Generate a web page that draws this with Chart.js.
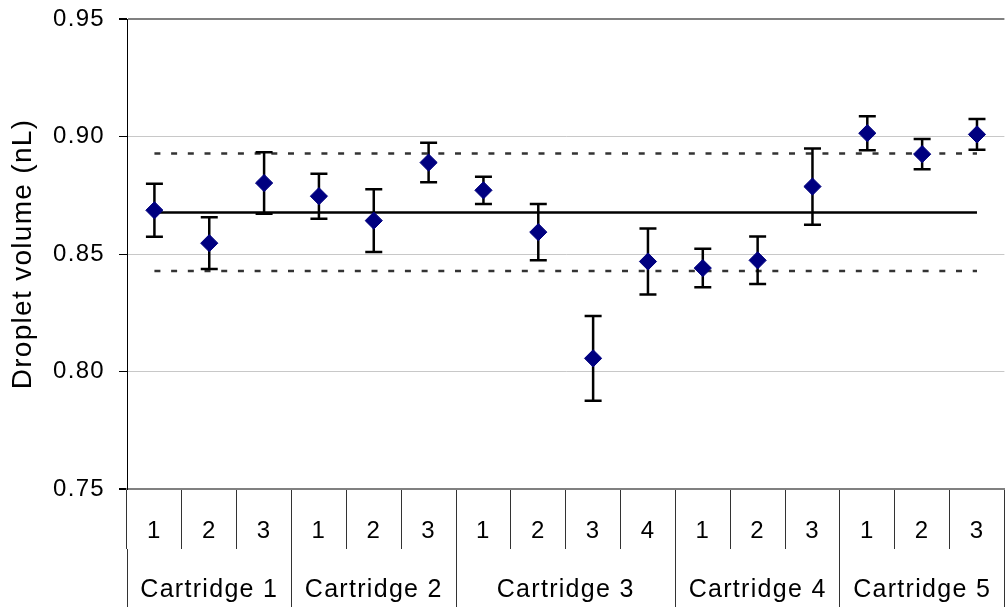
<!DOCTYPE html>
<html>
<head>
<meta charset="utf-8">
<script src="https://cdn.jsdelivr.net/npm/chart.js@4"></script>
<style>
  html, body { margin: 0; padding: 0; background: #fff; overflow: hidden; }
</style>
</head>
<body>
<canvas id="dropletChart" width="1014" height="607"></canvas>
<script>
// categories
const runLabels = ['1', '2', '3', '1', '2', '3', '1', '2', '3', '4', '1', '2', '3', '1', '2', '3'];
const cartridges = ['Cartridge 1', 'Cartridge 2', 'Cartridge 3', 'Cartridge 4', 'Cartridge 5'];
const runsPerCartridge = [3, 3, 4, 3, 3];

// measured droplet volume (nL) and its error (+/-)
const volumes = [0.8686, 0.8546, 0.8802, 0.8746, 0.8642, 0.8889, 0.8771, 0.8593,
                 0.8056, 0.8468, 0.8440, 0.8473, 0.8787, 0.9014, 0.8925, 0.9009];
const errors = [0.0113, 0.0110, 0.0131, 0.0096, 0.0134, 0.0084, 0.0058, 0.0120,
                0.0180, 0.0140, 0.0082, 0.0101, 0.0162, 0.0072, 0.0064, 0.0065];

// reference lines: lower limit, mean, upper limit
const meanVolume = 0.8677;
const lowerLimit = 0.8428;
const upperLimit = 0.8928;

// y axis
const yMin = 0.75;
const yMax = 0.95;
const yStep = 0.05;

// group boundaries / centres on the index scale
const groupEdges = [-0.5];
const groupCentres = [];
runsPerCartridge.forEach(n => {
  const start = groupEdges[groupEdges.length - 1];
  groupCentres.push(start + n / 2);
  groupEdges.push(start + n);
});
const firstIdx = 0;
const lastIdx = runLabels.length - 1;

Chart.defaults.font.family = "'Liberation Sans', Arial, sans-serif";
Chart.defaults.color = '#000';

const textSpacing = {
  id: 'textSpacing',
  beforeLayout(chart) { chart.ctx.letterSpacing = '1.3px'; },
  beforeDraw(chart) { chart.ctx.letterSpacing = '1.3px'; }
};

// error bars drawn just before the diamond markers
const errorBars = {
  id: 'errorBars',
  beforeDatasetDraw(chart, args) {
    if (args.index !== 0) return;
    const { ctx, scales: { x, y } } = chart;
    const cap = 8.5;
    ctx.save();
    ctx.strokeStyle = '#000';
    ctx.lineWidth = 2.5;
    volumes.forEach((v, i) => {
      const px = x.getPixelForValue(i);
      const top = y.getPixelForValue(v + errors[i]);
      const bottom = y.getPixelForValue(v - errors[i]);
      ctx.beginPath();
      ctx.moveTo(px, top);
      ctx.lineTo(px, bottom);
      ctx.moveTo(px - cap, top);
      ctx.lineTo(px + cap, top);
      ctx.moveTo(px - cap, bottom);
      ctx.lineTo(px + cap, bottom);
      ctx.stroke();
    });
    ctx.restore();
  }
};

const ctx = document.getElementById('dropletChart').getContext('2d');
new Chart(ctx, {
  type: 'line',
  data: {
    labels: runLabels,
    datasets: [
      {
        label: 'Droplet volume',
        data: volumes,
        showLine: false,
        pointStyle: 'rectRot',
        pointRadius: 8.6,
        pointBackgroundColor: '#000080',
        pointBorderColor: '#000080',
        pointBorderWidth: 1,
        order: 0
      },
      {
        label: 'Mean',
        xAxisID: 'x2',
        data: [{ x: firstIdx, y: meanVolume }, { x: lastIdx, y: meanVolume }],
        borderColor: '#000',
        borderWidth: 2.5,
        pointRadius: 0,
        order: 1
      },
      {
        label: 'Upper',
        xAxisID: 'x2',
        data: [{ x: firstIdx, y: upperLimit }, { x: lastIdx, y: upperLimit }],
        borderColor: '#333',
        borderWidth: 2.5,
        borderDash: [6, 10.7],
        pointRadius: 0,
        order: 2
      },
      {
        label: 'Lower',
        xAxisID: 'x2',
        data: [{ x: firstIdx, y: lowerLimit }, { x: lastIdx, y: lowerLimit }],
        borderColor: '#333',
        borderWidth: 2.5,
        borderDash: [6, 10.7],
        pointRadius: 0,
        order: 3
      }
    ]
  },
  options: {
    responsive: false,
    animation: false,
    events: [],
    layout: { padding: 0 },
    scales: {
      x: {
        type: 'category',
        position: 'bottom',
        offset: true,
        weight: 0,
        afterFit: (axis) => { axis.height = 60; },
        grid: {
          offset: true,
          drawOnChartArea: false,
          drawTicks: true,
          tickLength: 60,
          color: '#333',
          lineWidth: 1
        },
        border: { color: '#808080', width: 2 },
        ticks: {
          autoSkip: false,
          maxRotation: 0,
          minRotation: 0,
          padding: -32,
          font: { size: 24 },
          color: '#000'
        }
      },
      x2: {
        type: 'linear',
        position: 'bottom',
        weight: 1,
        min: -0.5,
        max: runLabels.length - 0.5,
        afterFit: (axis) => { axis.height = 58; },
        afterBuildTicks: (axis) => {
          axis.ticks = groupEdges.concat(groupCentres)
            .sort((a, b) => a - b)
            .map(v => ({ value: v }));
        },
        grid: {
          drawOnChartArea: false,
          drawTicks: true,
          tickLength: 58,
          color: (c) => (c.tick && groupEdges.includes(c.tick.value)) ? '#333' : 'rgba(0,0,0,0)',
          lineWidth: 1
        },
        border: { display: false },
        ticks: {
          autoSkip: false,
          maxRotation: 0,
          minRotation: 0,
          padding: -32,
          font: { size: 25 },
          color: '#000',
          callback: (value) => {
            const k = groupCentres.indexOf(value);
            return k >= 0 ? cartridges[k] : '';
          }
        }
      },
      y: {
        type: 'linear',
        position: 'left',
        min: yMin,
        max: yMax,
        afterFit: (axis) => {
          axis.width = 127;
          axis.paddingTop = 19;
          axis.paddingBottom = 0;
        },
        ticks: {
          stepSize: yStep,
          padding: 14,
          font: { size: 24 },
          color: '#000',
          callback: (value) => value.toFixed(2)
        },
        grid: {
          drawTicks: true,
          tickLength: 8,
          tickColor: '#000',
          color: (c) => {
            const v = c.tick ? c.tick.value : 0;
            return (Math.abs(v - yMin) < 1e-6 || Math.abs(v - yMax) < 1e-6) ? '#808080' : '#c8c8c8';
          },
          lineWidth: (c) => {
            const v = c.tick ? c.tick.value : 0;
            return (Math.abs(v - yMin) < 1e-6 || Math.abs(v - yMax) < 1e-6) ? 2 : 1;
          }
        },
        border: { color: '#000', width: 1 },
        title: {
          display: true,
          text: 'Droplet volume (nL)',
          font: { size: 28 },
          color: '#000',
          padding: { top: 6, bottom: 0 }
        }
      }
    },
    plugins: {
      legend: { display: false },
      tooltip: { enabled: false },
      title: { display: false }
    }
  },
  plugins: [textSpacing, errorBars]
});
</script>
</body>
</html>
